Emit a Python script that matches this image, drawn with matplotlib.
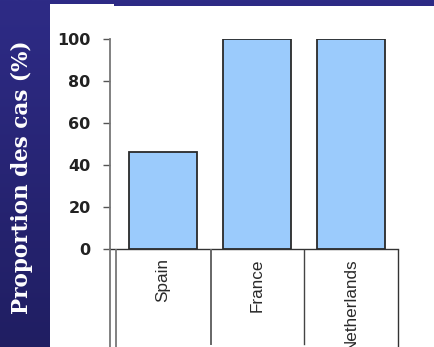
import matplotlib
matplotlib.use("Agg")
import matplotlib.pyplot as plt
import numpy as np
from matplotlib.patches import Rectangle
from matplotlib.lines import Line2D
from matplotlib.colors import LinearSegmentedColormap

countries = ["Spain", "France", "Netherlands"]
proportion = [46, 100, 100]
yticks = [0, 20, 40, 60, 80, 100]
ylabel = "Proportion des cas (%)"

W, H = 435, 347
fig = plt.figure(figsize=(W / 100, H / 100), dpi=100)
fig.patch.set_facecolor("#282878")

# navy backdrop, slightly darker towards the bottom
bg = fig.add_axes([0, 0, 1, 1], zorder=-10)
bg.axis("off")
navy = LinearSegmentedColormap.from_list("navy", ["#201e62", "#2e2b86"])
bg.imshow(np.linspace(0, 1, 256).reshape(-1, 1), cmap=navy, aspect="auto",
          origin="lower", extent=[0, 1, 0, 1])
bg.set_xlim(0, 1)
bg.set_ylim(0, 1)

def px(x0, y0, x1, y1):
    """Figure-fraction rectangle from pixel edges (origin top-left)."""
    return [x0 / W, 1 - y1 / H, (x1 - x0) / W, (y1 - y0) / H]

# white slide area
for (x0, y0, x1, y1) in [(50, 4, 114, H), (114, 6, W, H)]:
    l, b, w, h = px(x0, y0, x1, y1)
    bg.add_patch(Rectangle((l, b), w, h, transform=fig.transFigure,
                           facecolor="white", edgecolor="none", zorder=5))

ax = fig.add_axes(px(110, 39, 398, 249))
ax.set_zorder(2)
ax.set_facecolor("none")
pos = list(range(len(countries)))
ax.bar(pos, proportion, width=0.72, color="#9bcbfc", edgecolor="#2a2a2a",
       linewidth=1.3, zorder=3)
ax.set_xlim(-0.564, 2.5)
ax.set_ylim(0, 100)
ax.set_yticks(yticks)
ax.set_yticklabels([str(v) for v in yticks], fontsize=11.5, fontweight="bold",
                   family="DejaVu Sans", color="#222222")
ax.tick_params(axis="y", direction="out", length=5, width=1, color="#555555", pad=9)
ax.set_xticks([])
for s in ["top", "right"]:
    ax.spines[s].set_visible(False)
ax.spines["left"].set_color("#777777")
ax.spines["left"].set_linewidth(1.3)
ax.spines["bottom"].set_color("#333333")
ax.spines["bottom"].set_linewidth(1.0)

# category table under the axis
def vline(xp, y0, y1, color="#666666", lw=1.4):
    fig.add_artist(Line2D([xp / W, xp / W], [1 - y0 / H, 1 - y1 / H],
                          transform=fig.transFigure, color=color, lw=lw, zorder=3))

vline(110, 249, H, "#777777", 1.3)
vline(116, 250, H, "#777777", 1.3)
vline(211, 250, 344)
vline(304, 250, 344, "#444444", 1.0)
vline(398, 250, H, "#333333", 1.0)

for i, name in enumerate(countries):
    ax.text(i, -0.045, name, transform=ax.get_xaxis_transform(), rotation=90,
            ha="center", va="top", fontsize=12.3, family="Liberation Sans",
            color="#2a2a2a")

fig.text(22 / W, 1 - 177 / H, ylabel, rotation=90, ha="center", va="center",
         color="white", fontsize=15.5, fontweight="bold", family="DejaVu Serif",
         zorder=4)

fig.savefig("out.png", dpi=100, facecolor=fig.get_facecolor())
